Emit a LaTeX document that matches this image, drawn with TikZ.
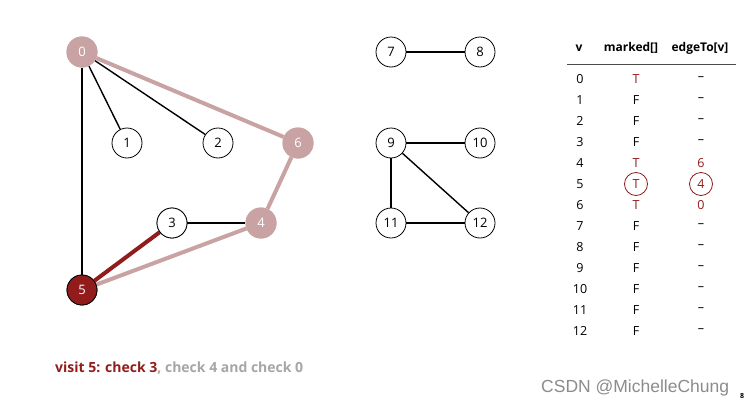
\documentclass[tikz,border=0pt]{standalone}
\usepackage{fontspec}
\setmainfont{Open Sans}
\newfontfamily\wmfont{Liberation Sans}
\newcommand{\tdash}{\raisebox{-1.5pt}{--}}
\begin{document}
\begin{tikzpicture}[x=1pt,y=-1pt,
  vtx/.style={circle,draw=black,line width=0.8pt,fill=white,minimum size=30pt,inner sep=0pt,font=\fontsize{13}{13}\selectfont},
  vis/.style={circle,fill=pinkv,minimum size=31pt,inner sep=0pt,text=white,font=\fontsize{13}{13}\selectfont},
  cur/.style={circle,draw=black,line width=0.8pt,fill=darkv,minimum size=30pt,inner sep=0pt,text=white,font=\fontsize{13}{13}\selectfont},
  edge/.style={line width=1.4pt,black},
  tedge/.style={line width=4pt,pinkv},
  cedge/.style={line width=4pt,darkv},
  cell/.style={font=\fontsize{12.5}{13}\selectfont,inner sep=0pt},
  hcell/.style={font=\bfseries\fontsize{12}{12}\selectfont,inner sep=0pt},
  rcell/.style={cell,text=darkv},
  ring/.style={circle,draw=darkv,line width=0.8pt,minimum size=23pt,inner sep=0pt}
]
\definecolor{pinkv}{HTML}{C9A3A3}
\definecolor{darkv}{HTML}{921C1C}
\definecolor{grayt}{HTML}{A6A6A6}
\fill[white] (0,0) rectangle (748,407);
\useasboundingbox (0,0) rectangle (748,407);
% vertices
\node[vis] (n0) at (82,52) {0};
\node[vtx] (n1) at (127,143) {1};
\node[vtx] (n2) at (218,143) {2};
\node[vis] (n6) at (298,143) {6};
\node[vtx] (n3) at (172,223) {3};
\node[vis] (n4) at (261,223) {4};
\node[cur] (n5) at (82,290) {5};
\node[vtx] (n7) at (391,52) {7};
\node[vtx] (n8) at (480,52) {8};
\node[vtx] (n9) at (391,143) {9};
\node[vtx] (n10) at (480,143) {10};
\node[vtx] (n11) at (391,223) {11};
\node[vtx] (n12) at (480,223) {12};
% edges
\draw[edge] (n0) -- (n1);
\draw[edge] (n0) -- (n2);
\draw[edge] (n0) -- (n5);
\draw[edge] (n3) -- (n4);
\draw[tedge] (n0) -- (n6);
\draw[tedge] (n6) -- (n4);
\draw[tedge] (n4) -- (n5);
\draw[cedge] (n5) -- (n3);
\draw[edge] (n7) -- (n8);
\draw[edge] (n9) -- (n10);
\draw[edge] (n9) -- (n11);
\draw[edge] (n9) -- (n12);
\draw[edge] (n11) -- (n12);
% redraw nodes on top
\node[vis] at (n0) {0};
\node[vis] at (n6) {6};
\node[vis] at (n4) {4};
\node[vtx] at (n3) {3};
\node[cur] at (n5) {5};
% table
\node[hcell] (hv) at (579,48) {v};
\node[hcell] (hm) at (631,48) {marked[]};
\node[hcell] (he) at (700,48) {edgeTo[v]};
\coordinate (rl) at (567,64);
\coordinate (rr) at (736,64);
\draw[line width=0.9pt,black!70] (rl) -- (rr);
\foreach \i/\m/\e/\mc/\ec in {0/T/\tdash/rcell/cell,1/F/\tdash/cell/cell,2/F/\tdash/cell/cell,3/F/\tdash/cell/cell,4/T/6/rcell/rcell,5/T/4/rcell/rcell,6/T/0/rcell/rcell,7/F/\tdash/cell/cell,8/F/\tdash/cell/cell,9/F/\tdash/cell/cell,10/F/\tdash/cell/cell,11/F/\tdash/cell/cell,12/F/\tdash/cell/cell}{
  \node[cell] (v\i) at (580,79+21*\i) {\i};
  \node[\mc] (m\i) at (636,79+21*\i) {\m};
  \node[\ec] (e\i) at (701,79+21*\i) {\e};
}
\node[ring] (r1) at (m5) {};
\node[ring] (r2) at (e5) {};
% caption
\node[anchor=west,inner sep=0pt,font=\bfseries\fontsize{14}{14}\selectfont] (cap) at (55,368) {\textcolor{darkv}{visit 5: check 3}\textcolor{grayt}{, check 4 and check 0}};
% watermark
\node[anchor=west,inner sep=0pt,font=\wmfont\fontsize{17.5}{17.5}\selectfont,text=black!45] (wm) at (541,388) {CSDN @MichelleChung};
\node[inner sep=0pt,font=\bfseries\fontsize{7}{7}\selectfont] (pg) at (742,396) {8};
\end{tikzpicture}
\end{document}
